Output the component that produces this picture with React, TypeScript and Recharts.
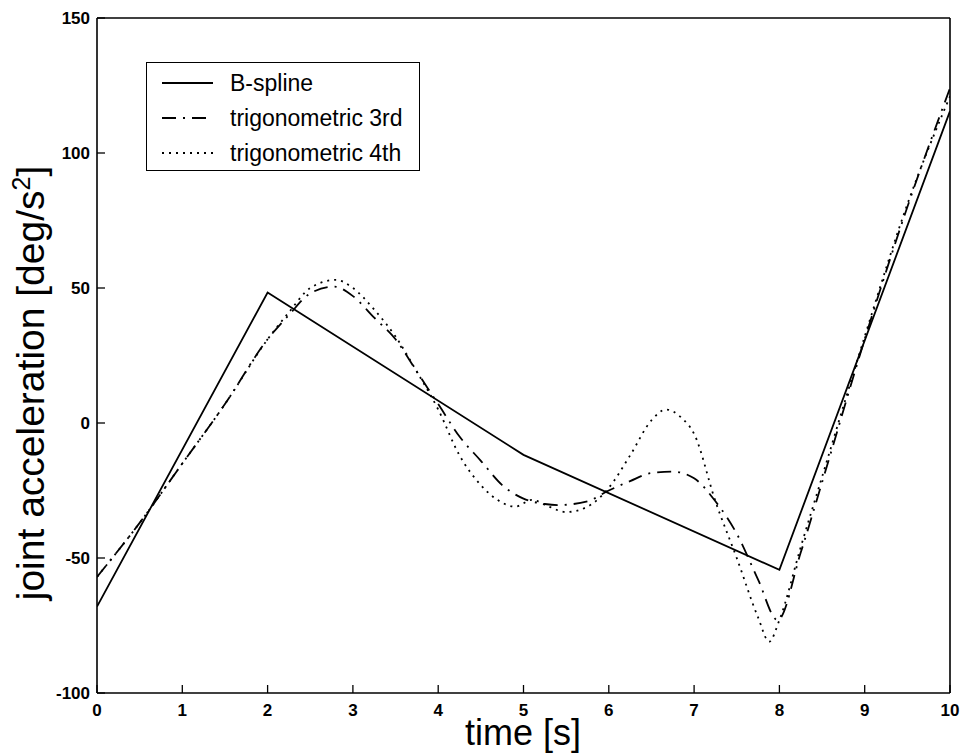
import React from 'react';
import { LineChart, Line, XAxis, YAxis } from 'recharts';

// time samples [s] and joint acceleration [deg/s^2]
const bsplineT = [0, 2, 5, 8, 10];
const bsplineV = [-68, 48.3, -11.8, -54.4, 115.5];

const trig3T = [0, 0.5, 1, 1.5, 2, 2.25, 2.5, 2.78, 3, 3.25, 3.5, 3.75, 4, 4.25, 4.5, 4.75, 5, 5.25, 5.4, 5.75, 6, 6.25, 6.5, 6.75, 7, 7.25, 7.5, 7.75, 7.98, 8.25, 8.5, 9, 9.5, 10];
const trig3V = [-57, -37, -15, 7, 31, 40, 48, 50.5, 47, 39, 31, 19, 7, -5, -14, -23, -28, -30, -30.4, -29, -25, -21.5, -18.5, -18, -20.5, -29, -41, -58, -73, -48, -22, 31, 80, 124];

const trig4T = [0, 0.5, 1, 1.5, 2, 2.25, 2.5, 2.8, 3, 3.25, 3.5, 3.75, 4, 4.25, 4.5, 4.75, 4.9, 5.1, 5.3, 5.5, 5.75, 6, 6.25, 6.5, 6.67, 6.85, 7, 7.25, 7.5, 7.75, 7.88, 8, 8.25, 8.5, 9, 9.5, 10];
const trig4V = [-57, -37, -15, 7, 31, 41, 50, 53, 50, 42, 32, 19, 5, -12, -23, -29.5, -31, -28.5, -31, -33, -31, -24, -12, 1, 5, 2, -4, -29, -50, -72, -81, -73, -46, -20, 32, 81, 121];

const xTicks = [0, 1, 2, 3, 4, 5, 6, 7, 8, 9, 10];
const yTicks = [-100, -50, 0, 50, 100, 150];

const seriesNames = ['B-spline', 'trigonometric 3rd', 'trigonometric 4th'];

const toRows = (ts: number[], vs: number[]) => ts.map((t, i) => ({ t, v: vs[i] }));

const FONT = '"Liberation Sans", Arial, Helvetica, sans-serif';
const DASHDOT = '14 7 2 7';
const DOTTED = '2 5';

const BottomTick = (props: any) => {
  const { x, y, payload } = props;
  return (
    <g>
      <line x1={x} y1={y} x2={x} y2={y - 8} stroke="#000" strokeWidth={1.3} />
      <text x={x} y={y + 23} textAnchor="middle" fontSize={17} fontWeight="bold" fontFamily={FONT} fill="#000">
        {payload.value}
      </text>
    </g>
  );
};

const TopTick = (props: any) => {
  const { x, y } = props;
  return <line x1={x} y1={y} x2={x} y2={y + 8} stroke="#000" strokeWidth={1.3} />;
};

const LeftTick = (props: any) => {
  const { x, y, payload } = props;
  return (
    <g>
      <line x1={x} y1={y} x2={x + 8} y2={y} stroke="#000" strokeWidth={1.3} />
      <text x={x - 7} y={y + 6} textAnchor="end" fontSize={17} fontWeight="bold" fontFamily={FONT} fill="#000">
        {payload.value}
      </text>
    </g>
  );
};

const RightTick = (props: any) => {
  const { x, y } = props;
  return <line x1={x} y1={y} x2={x - 8} y2={y} stroke="#000" strokeWidth={1.3} />;
};

const Legend = () => {
  const rows = [
    { name: seriesNames[0], dash: undefined },
    { name: seriesNames[1], dash: DASHDOT },
    { name: seriesNames[2], dash: DOTTED },
  ];
  return (
    <div
      style={{
        position: 'absolute',
        left: 146,
        top: 62,
        width: 272,
        height: 107,
        border: '1.6px solid #000',
        background: '#fff',
        fontFamily: FONT,
      }}
    >
      <svg width={272} height={107} style={{ position: 'absolute', left: 0, top: 0 }}>
        {rows.map((r, i) => (
          <g key={r.name}>
            <line
              x1={15}
              x2={66}
              y1={20 + i * 35}
              y2={20 + i * 35}
              stroke="#000"
              strokeWidth={1.8}
              strokeDasharray={r.dash}
            />
            <text x={83} y={20 + i * 35 + 8} fontSize={23} fontFamily={FONT} fill="#000">
              {r.name}
            </text>
          </g>
        ))}
      </svg>
    </div>
  );
};

export default function App() {
  return (
    <div style={{ position: 'absolute', left: 0, top: 0, width: 963, height: 756, background: '#fff' }}>
      <LineChart width={963} height={756} margin={{ top: 17, right: 12, bottom: 23, left: 37 }}>
        <XAxis
          xAxisId="b"
          dataKey="t"
          type="number"
          domain={[0, 10]}
          ticks={xTicks}
          allowDataOverflow
          height={40}
          tickSize={0}
          tickMargin={0}
          tickLine={false}
          tick={<BottomTick />}
          axisLine={{ stroke: '#000', strokeWidth: 1.6 }}
          interval={0}
        />
        <XAxis
          xAxisId="top"
          orientation="top"
          dataKey="t"
          type="number"
          domain={[0, 10]}
          ticks={xTicks}
          height={1}
          tickSize={0}
          tickMargin={0}
          tickLine={false}
          tick={<TopTick />}
          axisLine={{ stroke: '#000', strokeWidth: 1.6 }}
          interval={0}
        />
        <YAxis
          yAxisId="l"
          type="number"
          domain={[-100, 150]}
          ticks={yTicks}
          allowDataOverflow
          width={60}
          tickSize={0}
          tickMargin={0}
          tickLine={false}
          tick={<LeftTick />}
          axisLine={{ stroke: '#000', strokeWidth: 1.6 }}
          interval={0}
        />
        <YAxis
          yAxisId="r"
          orientation="right"
          type="number"
          domain={[-100, 150]}
          ticks={yTicks}
          width={1}
          tickSize={0}
          tickMargin={0}
          tickLine={false}
          tick={<RightTick />}
          axisLine={{ stroke: '#000', strokeWidth: 1.6 }}
          interval={0}
        />
        <Line
          xAxisId="b"
          yAxisId="l"
          data={toRows(bsplineT, bsplineV)}
          dataKey="v"
          name={seriesNames[0]}
          type="linear"
          stroke="#000"
          strokeWidth={1.8}
          dot={false}
          isAnimationActive={false}
        />
        <Line
          xAxisId="b"
          yAxisId="l"
          data={toRows(trig3T, trig3V)}
          dataKey="v"
          name={seriesNames[1]}
          type="monotone"
          stroke="#000"
          strokeWidth={1.8}
          strokeDasharray={DASHDOT}
          dot={false}
          isAnimationActive={false}
        />
        <Line
          xAxisId="b"
          yAxisId="l"
          data={toRows(trig4T, trig4V)}
          dataKey="v"
          name={seriesNames[2]}
          type="monotone"
          stroke="#000"
          strokeWidth={1.8}
          strokeDasharray={DOTTED}
          dot={false}
          isAnimationActive={false}
        />
        <text x={523} y={745} textAnchor="middle" fontSize={36} fontFamily={FONT} fill="#000">
          time [s]
        </text>
        <text
          x={44}
          y={383}
          transform="rotate(-90 44 383)"
          textAnchor="middle"
          fontSize={39}
          fontFamily={FONT}
          fill="#000"
        >
          joint acceleration [deg/s
          <tspan dy={-14} fontSize={25}>2</tspan>
          <tspan dy={14}>]</tspan>
        </text>
      </LineChart>
      <Legend />
    </div>
  );
}
